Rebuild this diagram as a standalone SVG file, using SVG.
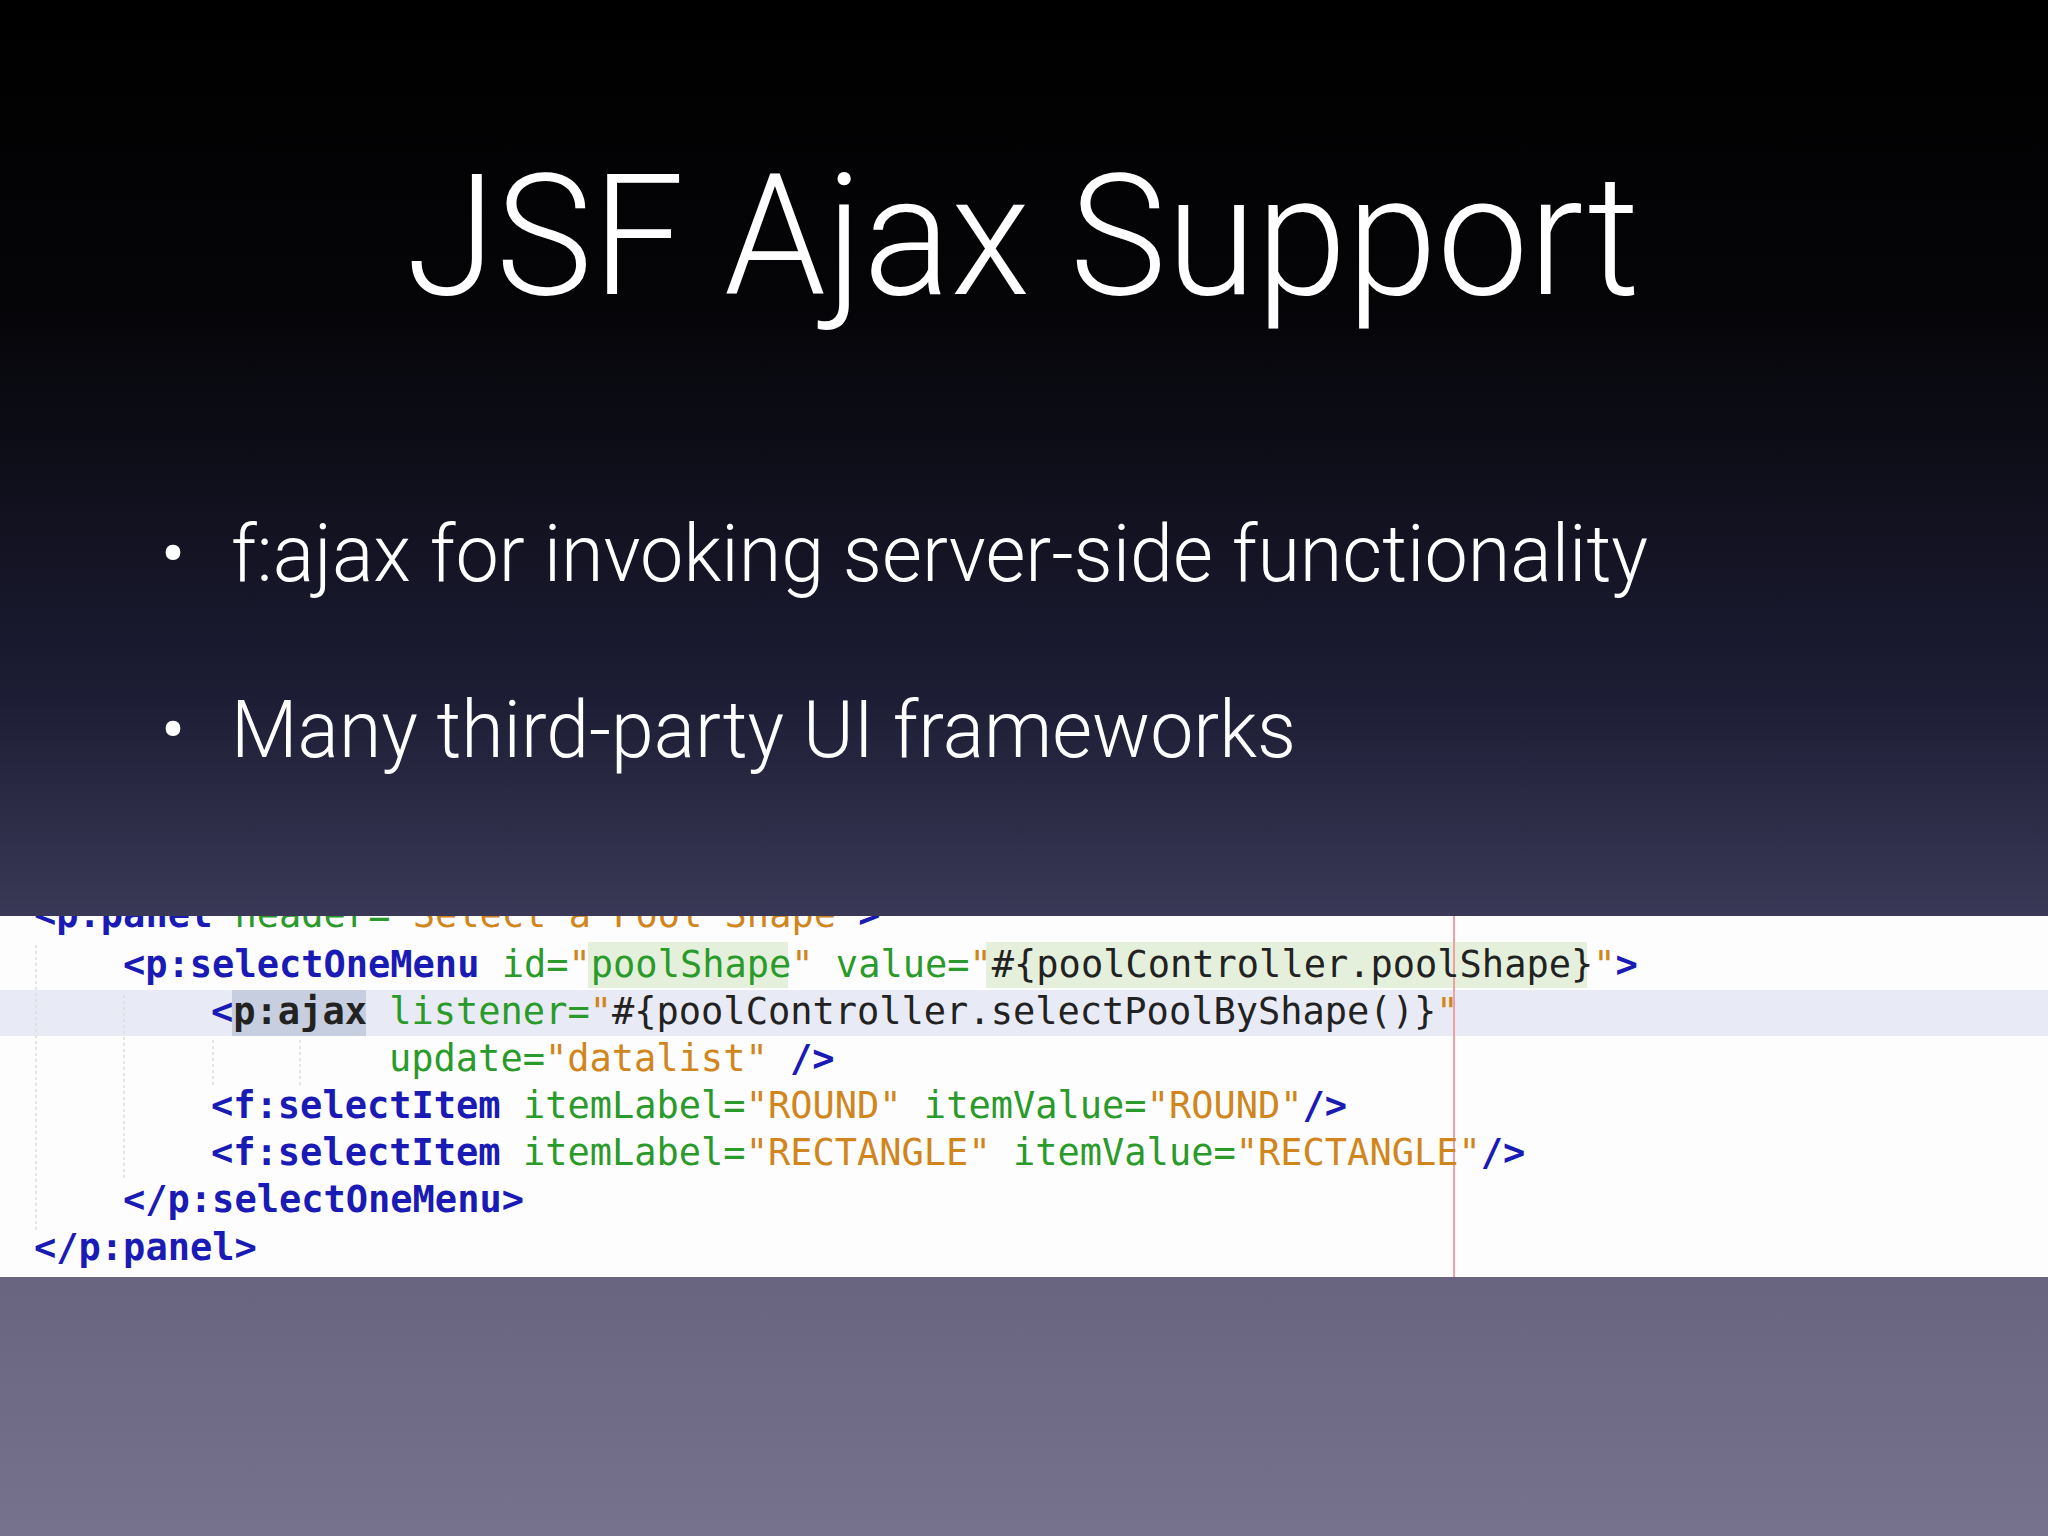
<svg xmlns="http://www.w3.org/2000/svg" width="2048" height="1536" viewBox="0 0 2048 1536">
<defs>
<linearGradient id="bg" x1="0" y1="0" x2="0" y2="1">
<stop offset="0" stop-color="#000000"/><stop offset="0.2" stop-color="#050508"/><stop offset="0.45" stop-color="#1c1c34"/><stop offset="0.6" stop-color="#3a3a58"/><stop offset="0.8" stop-color="#66627e"/><stop offset="1" stop-color="#76728e"/>
</linearGradient>
<clipPath id="cp"><rect x="0" y="916" width="2048" height="361"/></clipPath>
<style>
.t{font-family:"Roboto","Liberation Sans",sans-serif;font-weight:300;fill:#fff}
.c{font-family:"DejaVu Sans Mono","Liberation Mono",monospace;font-size:37px;white-space:pre}
.tg{fill:#1a1ab4;font-weight:bold}.at{fill:#2a9a2a}.st{fill:#d0861c}.dk{fill:#222}
</style>
</defs>
<rect width="2048" height="1536" fill="url(#bg)"/>
<text class="t" x="1023" y="294" font-size="168" text-anchor="middle" textLength="1234" lengthAdjust="spacingAndGlyphs">JSF Ajax Support</text>
<text class="t" x="160" y="581" font-size="80">•</text>
<text class="t" x="231" y="581" font-size="80" textLength="1417" lengthAdjust="spacingAndGlyphs">f:ajax for invoking server-side functionality</text>
<text class="t" x="160" y="757" font-size="80">•</text>
<text class="t" x="231" y="757" font-size="80" textLength="1065" lengthAdjust="spacingAndGlyphs">Many third-party UI frameworks</text>
<g id="code" clip-path="url(#cp)">
<rect x="0" y="916" width="2048" height="361" fill="#fdfdfd"/>
<rect x="0" y="990" width="2048" height="46" fill="#e8eaf5"/>
<rect x="588" y="942" width="200" height="46" fill="#e4f0dc"/>
<rect x="986" y="942" width="601" height="46" fill="#e4f0dc"/>
<rect x="232" y="990" width="134" height="46" fill="#c6cedf"/>
<line x1="1454" y1="916" x2="1454" y2="1277" stroke="#f0a0a0" stroke-width="2"/>
<g stroke="#ddd" stroke-width="1.5" stroke-dasharray="3,3">
<line x1="36" y1="945" x2="36" y2="1230"/><line x1="124" y1="995" x2="124" y2="1180"/><line x1="213" y1="1040" x2="213" y2="1085"/><line x1="300" y1="1040" x2="300" y2="1085"/>
</g>
<text class="c" x="34" y="927"><tspan class="tg">&lt;p:panel</tspan> <tspan class="at">header=</tspan><tspan class="st">"Select a Pool Shape"</tspan><tspan class="tg">&gt;</tspan></text>
<text class="c" x="123" y="977"><tspan class="tg">&lt;p:selectOneMenu</tspan> <tspan class="at">id=</tspan><tspan class="st">"</tspan><tspan class="at">poolShape</tspan><tspan class="st">"</tspan> <tspan class="at">value=</tspan><tspan class="st">"</tspan><tspan class="dk">#{poolController.poolShape}</tspan><tspan class="st">"</tspan><tspan class="tg">&gt;</tspan></text>
<text class="c" x="211" y="1024"><tspan class="tg">&lt;</tspan><tspan class="dk" font-weight="bold">p:ajax</tspan> <tspan class="at">listener=</tspan><tspan class="st">"</tspan><tspan class="dk">#{poolController.selectPoolByShape()}</tspan><tspan class="st">"</tspan></text>
<text class="c" x="389" y="1071"><tspan class="at">update=</tspan><tspan class="st">"datalist"</tspan> <tspan class="tg">/&gt;</tspan></text>
<text class="c" x="211" y="1118"><tspan class="tg">&lt;f:selectItem</tspan> <tspan class="at">itemLabel=</tspan><tspan class="st">"ROUND"</tspan> <tspan class="at">itemValue=</tspan><tspan class="st">"ROUND"</tspan><tspan class="tg">/&gt;</tspan></text>
<text class="c" x="211" y="1165"><tspan class="tg">&lt;f:selectItem</tspan> <tspan class="at">itemLabel=</tspan><tspan class="st">"RECTANGLE"</tspan> <tspan class="at">itemValue=</tspan><tspan class="st">"RECTANGLE"</tspan><tspan class="tg">/&gt;</tspan></text>
<text class="c" x="123" y="1212"><tspan class="tg">&lt;/p:selectOneMenu&gt;</tspan></text>
<text class="c" x="34" y="1260"><tspan class="tg">&lt;/p:panel&gt;</tspan></text>
</g>
</svg>
